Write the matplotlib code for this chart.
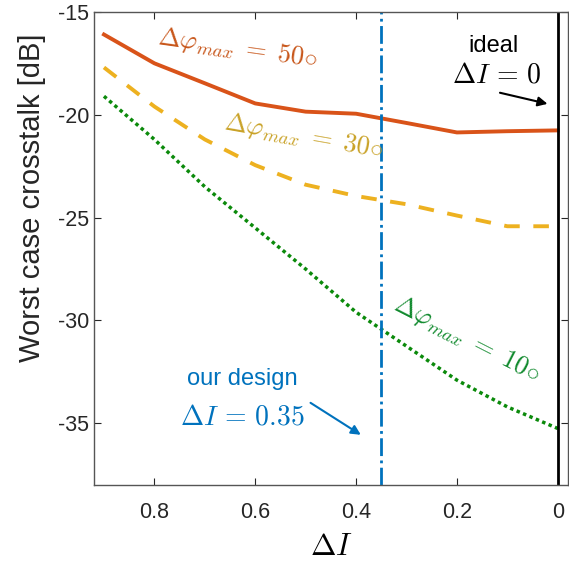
"""
Worst case crosstalk vs Delta I for several max phase errors.
"""

import matplotlib
matplotlib.use('Agg')
import matplotlib.pyplot as plt

plt.rcParams['font.family'] = ['Liberation Sans', 'DejaVu Sans']
plt.rcParams['mathtext.fontset'] = 'cm'
plt.rcParams['axes.unicode_minus'] = False

delta_i = [0.9, 0.8, 0.7, 0.6, 0.5, 0.4, 0.3, 0.2, 0.1, 0.0]
xtalk_50 = [-16.1, -17.5, -18.47, -19.45, -19.85, -19.95, -20.4, -20.86, -20.8, -20.76]
xtalk_30 = [-17.7, -19.6, -21.2, -22.45, -23.4, -23.95, -24.35, -24.9, -25.42, -25.42]
xtalk_10 = [-19.1, -21.2, -23.5, -25.5, -27.5, -29.6, -31.25, -32.9, -34.2, -35.25]

design_i = 0.35
ideal_i = 0.0

xticks = [0.8, 0.6, 0.4, 0.2, 0]
xtick_labels = ['0.8', '0.6', '0.4', '0.2', '0']
yticks = [-35, -30, -25, -20, -15]

RED = '#D95319'
YELLOW = '#EDB120'
GREEN = '#0B8A0B'
BLUE = '#0072BD'

fig = plt.figure(figsize=(5.69, 5.66), dpi=100)
ax = fig.add_axes([0.165, 0.143, 0.833, 0.836])

ax.plot(delta_i, xtalk_50, color=RED, lw=2.8, solid_joinstyle='round')
ax.plot(delta_i, xtalk_30, color=YELLOW, lw=2.8, linestyle=(0, (4, 3.5)))
ax.plot(delta_i, xtalk_10, color=GREEN, lw=2.5, linestyle=(0, (1, 1)))

ax.axvline(design_i, color=BLUE, lw=2, linestyle='-.')
ax.axvline(ideal_i, color='black', lw=2)

ax.set_xlim(0.92, -0.02)
ax.set_ylim(-38, -15)
ax.set_xticks(xticks)
ax.set_xticklabels(xtick_labels)
ax.set_yticks(yticks)
ax.tick_params(direction='in', top=True, right=True, labelsize=15.5,
               colors='#262626', length=5, width=0.8)
ax.tick_params(axis='x', pad=12)
for sp in ax.spines.values():
    sp.set_color('#555555')
    sp.set_linewidth(1)

ax.set_ylabel('Worst case crosstalk [dB]', fontsize=21, color='#262626')
ax.yaxis.set_label_coords(-0.1, 0.607)
ax.set_xlabel(r'$\Delta I$', fontsize=22, labelpad=7)

# curve labels
ax.text(0.635, -16.75, r'$\Delta\varphi_{max}\;=\;50\!\circ$', color='#C8561A',
        fontsize=19, rotation=-8, ha='center', va='center')
ax.text(0.505, -21.05, r'$\Delta\varphi_{max}\;=\;30\!\circ$', color='#C9A227',
        fontsize=19, rotation=-10, ha='center', va='center')
ax.text(0.18, -30.9, r'$\Delta\varphi_{max}\;=\;10\!\circ$', color='#118A2E',
        fontsize=19, rotation=-27, ha='center', va='center')

# annotations
ax.text(0.127, -16.64, 'ideal', fontsize=17, ha='center', va='center')
ax.text(0.121, -18.1, r'$\Delta I\,=\,0$', fontsize=20, ha='center', va='center')
ax.annotate('', xy=(0.015, -19.5), xytext=(0.12, -18.9),
            arrowprops=dict(arrowstyle='-|>', color='black', lw=1.5,
                            mutation_scale=14))

ax.text(0.626, -32.86, 'our design', fontsize=17, color=BLUE, ha='center', va='center')
ax.text(0.625, -34.7, r'$\Delta I\,=\,0.35$', fontsize=20, color=BLUE,
        ha='center', va='center')
ax.annotate('', xy=(0.386, -35.63), xytext=(0.495, -33.93),
            arrowprops=dict(arrowstyle='-|>', color=BLUE, lw=1.5,
                            mutation_scale=14))

fig.savefig('out.png', dpi=100)
